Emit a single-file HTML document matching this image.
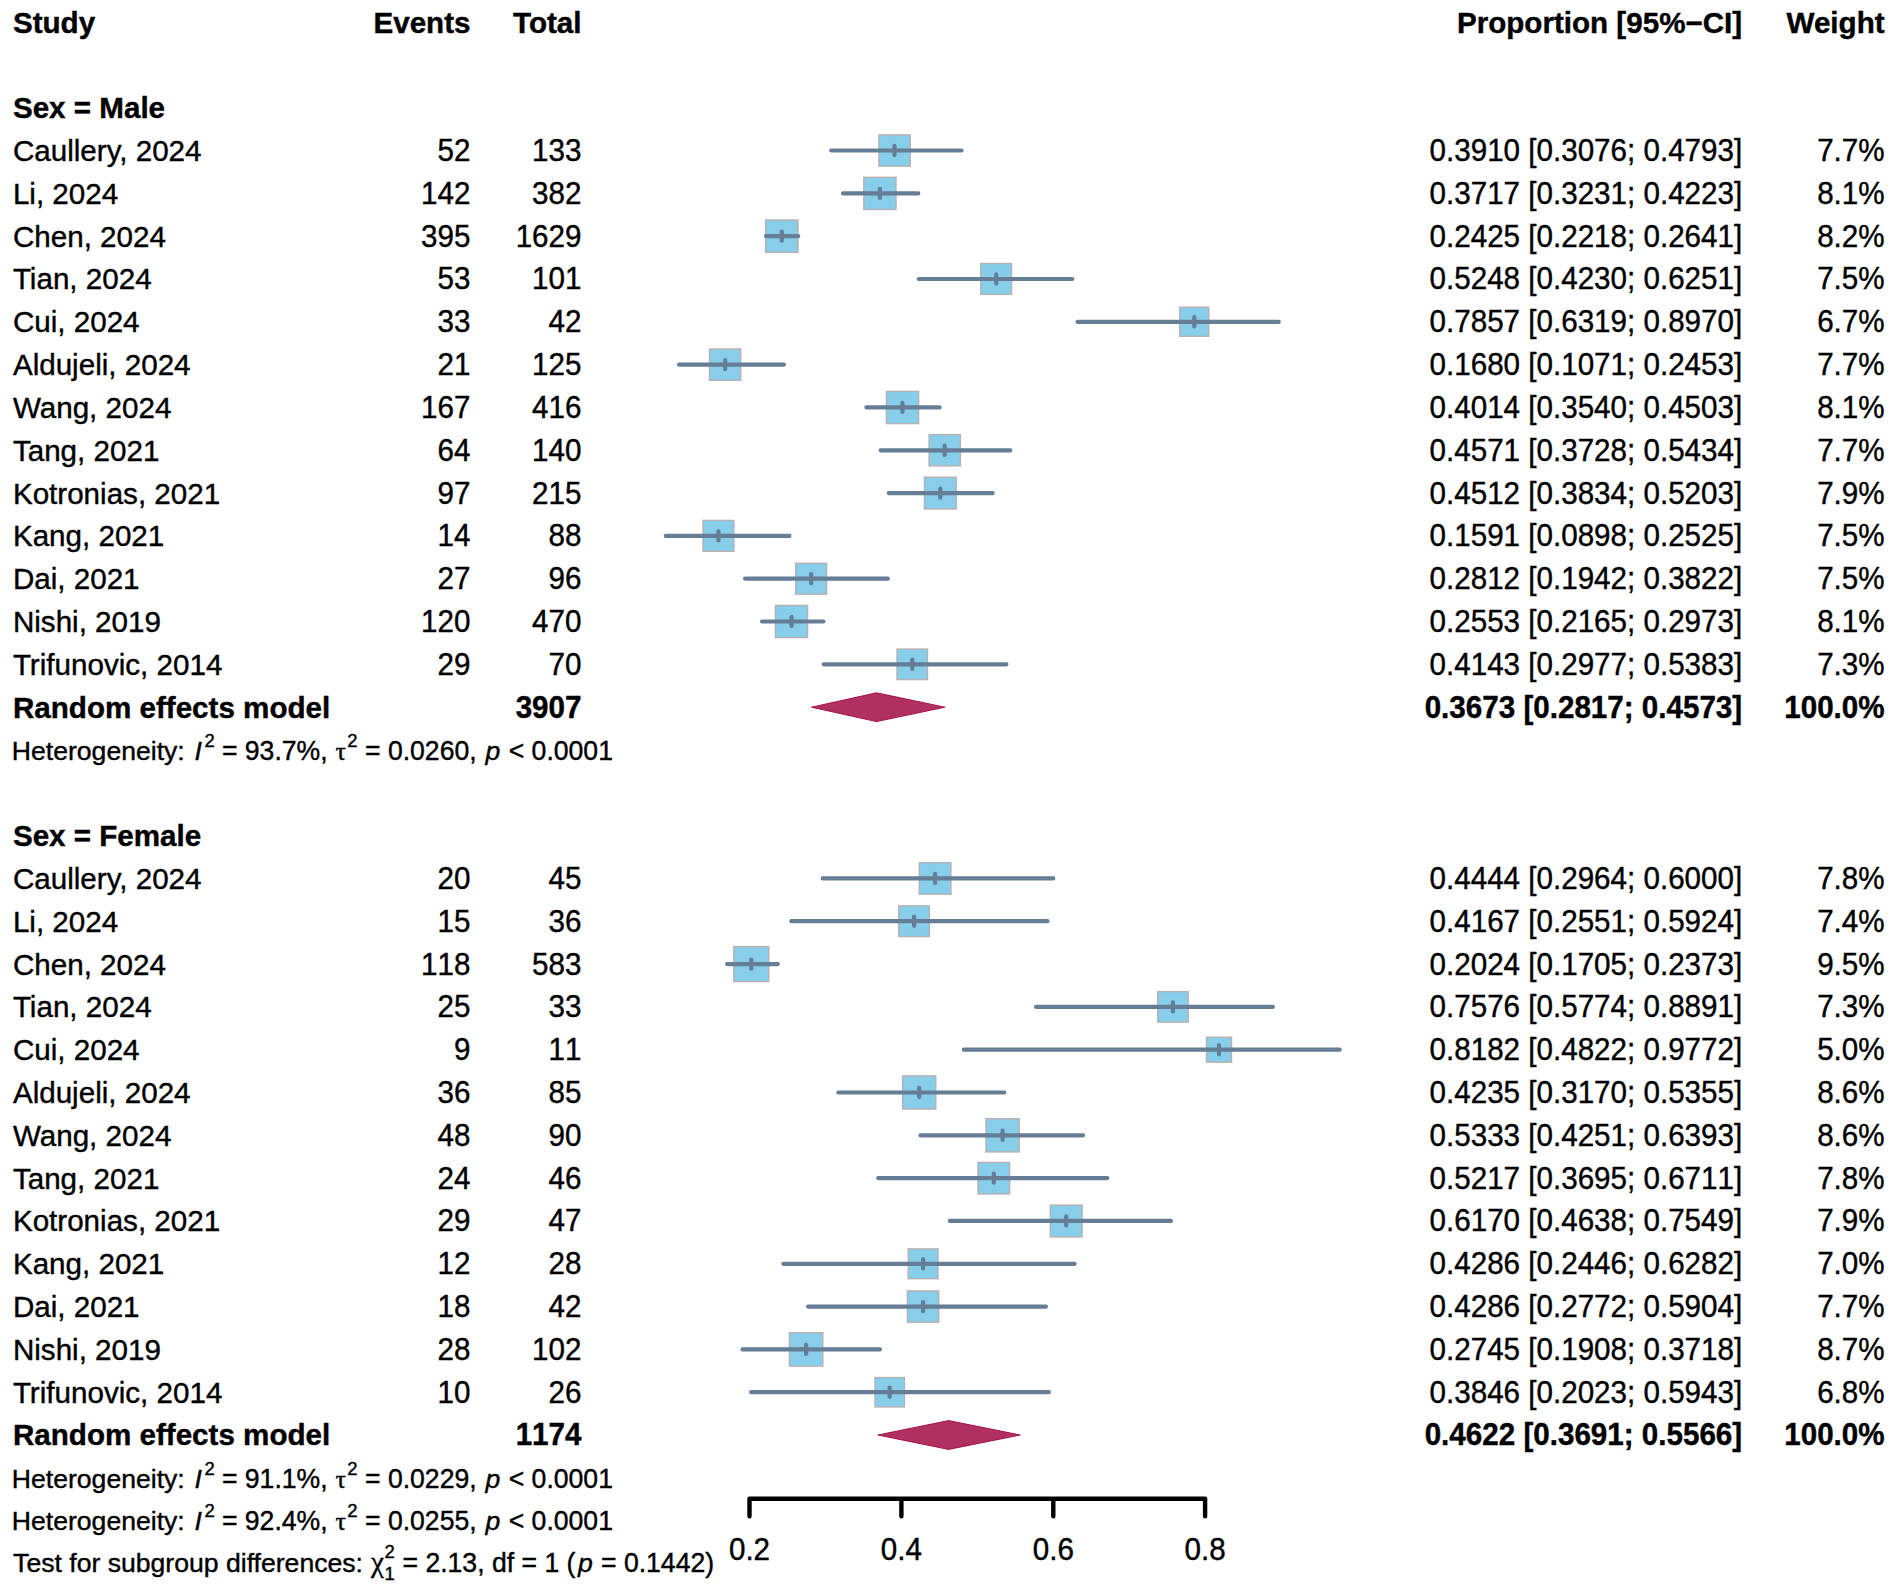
<!DOCTYPE html>
<html lang="en"><head><meta charset="utf-8"><title>Forest plot</title>
<style>
html,body{margin:0;padding:0;background:#fff}
svg{display:block}
.s{font-size:26.6px}
.u{font-size:18.5px}
.i{font-style:italic}
.k{font-kerning:normal}
.y{font-family:"Liberation Serif","DejaVu Serif",serif;font-size:26px}
.x{font-family:"Liberation Serif","DejaVu Serif",serif;font-size:29px}
text{font-family:"Liberation Sans",Arial,Helvetica,sans-serif;font-size:29.6px;fill:#000;font-kerning:none;stroke:#000;stroke-width:0.4px}
</style></head><body>
<svg width="1893" height="1591" viewBox="0 0 1893 1591">
<rect width="1893" height="1591" fill="#fff"/>
<text x="12.9" y="32.5" font-weight="bold" class="k">Study</text>
<text x="470.5" y="32.5" text-anchor="end" font-weight="bold" class="k">Events</text>
<text x="581.5" y="32.5" text-anchor="end" font-weight="bold" class="k">Total</text>
<text x="1742.2" y="32.5" text-anchor="end" font-weight="bold" class="k">Proportion [95%−CI]</text>
<text x="1884.6" y="32.5" text-anchor="end" font-weight="bold" class="k">Weight</text>
<text x="12.9" y="118.1" font-weight="bold" class="k">Sex = Male</text>
<text x="12.9" y="160.9" class="k">Caullery, 2024</text>
<text x="470.5" y="0" transform="translate(0,160.9) scale(1,1.04)" text-anchor="end">52</text>
<text x="581.5" y="0" transform="translate(0,160.9) scale(1,1.04)" text-anchor="end">133</text>
<text x="1742.2" y="0" transform="translate(0,160.9) scale(1,1.04)" text-anchor="end">0.3910 [0.3076; 0.4793]</text>
<text x="1884.6" y="0" transform="translate(0,160.9) scale(1,1.04)" text-anchor="end">7.7%</text>
<rect x="878.9" y="134.9" width="31.3" height="31.3" fill="#87ceeb" stroke="#b9b1b1" stroke-width="1.4"/>
<path d="M831.2 150.5H961.6M894.5 145.9V155.1" stroke="#667d96" stroke-width="4.2" stroke-linecap="round" fill="none"/>
<text x="12.9" y="203.8" class="k">Li, 2024</text>
<text x="470.5" y="0" transform="translate(0,203.8) scale(1,1.04)" text-anchor="end">142</text>
<text x="581.5" y="0" transform="translate(0,203.8) scale(1,1.04)" text-anchor="end">382</text>
<text x="1742.2" y="0" transform="translate(0,203.8) scale(1,1.04)" text-anchor="end">0.3717 [0.3231; 0.4223]</text>
<text x="1884.6" y="0" transform="translate(0,203.8) scale(1,1.04)" text-anchor="end">8.1%</text>
<rect x="863.8" y="177.3" width="32.2" height="32.2" fill="#87ceeb" stroke="#b9b1b1" stroke-width="1.4"/>
<path d="M843.0 193.4H918.3M879.9 188.8V198.0" stroke="#667d96" stroke-width="4.2" stroke-linecap="round" fill="none"/>
<text x="12.9" y="246.6" class="k">Chen, 2024</text>
<text x="470.5" y="0" transform="translate(0,246.6) scale(1,1.04)" text-anchor="end">395</text>
<text x="581.5" y="0" transform="translate(0,246.6) scale(1,1.04)" text-anchor="end">1629</text>
<text x="1742.2" y="0" transform="translate(0,246.6) scale(1,1.04)" text-anchor="end">0.2425 [0.2218; 0.2641]</text>
<text x="1884.6" y="0" transform="translate(0,246.6) scale(1,1.04)" text-anchor="end">8.2%</text>
<rect x="765.6" y="220.0" width="32.4" height="32.4" fill="#87ceeb" stroke="#b9b1b1" stroke-width="1.4"/>
<path d="M766.1 236.2H798.2M781.8 231.6V240.8" stroke="#667d96" stroke-width="4.2" stroke-linecap="round" fill="none"/>
<text x="12.9" y="289.4" class="k">Tian, 2024</text>
<text x="470.5" y="0" transform="translate(0,289.4) scale(1,1.04)" text-anchor="end">53</text>
<text x="581.5" y="0" transform="translate(0,289.4) scale(1,1.04)" text-anchor="end">101</text>
<text x="1742.2" y="0" transform="translate(0,289.4) scale(1,1.04)" text-anchor="end">0.5248 [0.4230; 0.6251]</text>
<text x="1884.6" y="0" transform="translate(0,289.4) scale(1,1.04)" text-anchor="end">7.5%</text>
<rect x="980.7" y="263.5" width="30.9" height="30.9" fill="#87ceeb" stroke="#b9b1b1" stroke-width="1.4"/>
<path d="M918.8 279.0H1072.3M996.2 274.4V283.6" stroke="#667d96" stroke-width="4.2" stroke-linecap="round" fill="none"/>
<text x="12.9" y="332.2" class="k">Cui, 2024</text>
<text x="470.5" y="0" transform="translate(0,332.2) scale(1,1.04)" text-anchor="end">33</text>
<text x="581.5" y="0" transform="translate(0,332.2) scale(1,1.04)" text-anchor="end">42</text>
<text x="1742.2" y="0" transform="translate(0,332.2) scale(1,1.04)" text-anchor="end">0.7857 [0.6319; 0.8970]</text>
<text x="1884.6" y="0" transform="translate(0,332.2) scale(1,1.04)" text-anchor="end">6.7%</text>
<rect x="1179.7" y="307.2" width="29.1" height="29.1" fill="#87ceeb" stroke="#b9b1b1" stroke-width="1.4"/>
<path d="M1077.5 321.8H1278.8M1194.3 317.2V326.4" stroke="#667d96" stroke-width="4.2" stroke-linecap="round" fill="none"/>
<text x="12.9" y="375.0" class="k">Aldujeli, 2024</text>
<text x="470.5" y="0" transform="translate(0,375.0) scale(1,1.04)" text-anchor="end">21</text>
<text x="581.5" y="0" transform="translate(0,375.0) scale(1,1.04)" text-anchor="end">125</text>
<text x="1742.2" y="0" transform="translate(0,375.0) scale(1,1.04)" text-anchor="end">0.1680 [0.1071; 0.2453]</text>
<text x="1884.6" y="0" transform="translate(0,375.0) scale(1,1.04)" text-anchor="end">7.7%</text>
<rect x="709.5" y="349.0" width="31.3" height="31.3" fill="#87ceeb" stroke="#b9b1b1" stroke-width="1.4"/>
<path d="M679.0 364.6H783.9M725.2 360.0V369.2" stroke="#667d96" stroke-width="4.2" stroke-linecap="round" fill="none"/>
<text x="12.9" y="417.8" class="k">Wang, 2024</text>
<text x="470.5" y="0" transform="translate(0,417.8) scale(1,1.04)" text-anchor="end">167</text>
<text x="581.5" y="0" transform="translate(0,417.8) scale(1,1.04)" text-anchor="end">416</text>
<text x="1742.2" y="0" transform="translate(0,417.8) scale(1,1.04)" text-anchor="end">0.4014 [0.3540; 0.4503]</text>
<text x="1884.6" y="0" transform="translate(0,417.8) scale(1,1.04)" text-anchor="end">8.1%</text>
<rect x="886.4" y="391.4" width="32.2" height="32.2" fill="#87ceeb" stroke="#b9b1b1" stroke-width="1.4"/>
<path d="M866.4 407.4H939.6M902.4 402.8V412.0" stroke="#667d96" stroke-width="4.2" stroke-linecap="round" fill="none"/>
<text x="12.9" y="460.7" class="k">Tang, 2021</text>
<text x="470.5" y="0" transform="translate(0,460.7) scale(1,1.04)" text-anchor="end">64</text>
<text x="581.5" y="0" transform="translate(0,460.7) scale(1,1.04)" text-anchor="end">140</text>
<text x="1742.2" y="0" transform="translate(0,460.7) scale(1,1.04)" text-anchor="end">0.4571 [0.3728; 0.5434]</text>
<text x="1884.6" y="0" transform="translate(0,460.7) scale(1,1.04)" text-anchor="end">7.7%</text>
<rect x="929.1" y="434.6" width="31.3" height="31.3" fill="#87ceeb" stroke="#b9b1b1" stroke-width="1.4"/>
<path d="M880.7 450.3H1010.3M944.7 445.7V454.9" stroke="#667d96" stroke-width="4.2" stroke-linecap="round" fill="none"/>
<text x="12.9" y="503.5" class="k">Kotronias, 2021</text>
<text x="470.5" y="0" transform="translate(0,503.5) scale(1,1.04)" text-anchor="end">97</text>
<text x="581.5" y="0" transform="translate(0,503.5) scale(1,1.04)" text-anchor="end">215</text>
<text x="1742.2" y="0" transform="translate(0,503.5) scale(1,1.04)" text-anchor="end">0.4512 [0.3834; 0.5203]</text>
<text x="1884.6" y="0" transform="translate(0,503.5) scale(1,1.04)" text-anchor="end">7.9%</text>
<rect x="924.4" y="477.2" width="31.8" height="31.8" fill="#87ceeb" stroke="#b9b1b1" stroke-width="1.4"/>
<path d="M888.8 493.1H992.7M940.3 488.5V497.7" stroke="#667d96" stroke-width="4.2" stroke-linecap="round" fill="none"/>
<text x="12.9" y="546.3" class="k">Kang, 2021</text>
<text x="470.5" y="0" transform="translate(0,546.3) scale(1,1.04)" text-anchor="end">14</text>
<text x="581.5" y="0" transform="translate(0,546.3) scale(1,1.04)" text-anchor="end">88</text>
<text x="1742.2" y="0" transform="translate(0,546.3) scale(1,1.04)" text-anchor="end">0.1591 [0.0898; 0.2525]</text>
<text x="1884.6" y="0" transform="translate(0,546.3) scale(1,1.04)" text-anchor="end">7.5%</text>
<rect x="703.0" y="520.4" width="30.9" height="30.9" fill="#87ceeb" stroke="#b9b1b1" stroke-width="1.4"/>
<path d="M665.8 535.9H789.4M718.4 531.3V540.5" stroke="#667d96" stroke-width="4.2" stroke-linecap="round" fill="none"/>
<text x="12.9" y="589.1" class="k">Dai, 2021</text>
<text x="470.5" y="0" transform="translate(0,589.1) scale(1,1.04)" text-anchor="end">27</text>
<text x="581.5" y="0" transform="translate(0,589.1) scale(1,1.04)" text-anchor="end">96</text>
<text x="1742.2" y="0" transform="translate(0,589.1) scale(1,1.04)" text-anchor="end">0.2812 [0.1942; 0.3822]</text>
<text x="1884.6" y="0" transform="translate(0,589.1) scale(1,1.04)" text-anchor="end">7.5%</text>
<rect x="795.7" y="563.3" width="30.9" height="30.9" fill="#87ceeb" stroke="#b9b1b1" stroke-width="1.4"/>
<path d="M745.1 578.7H887.9M811.2 574.1V583.3" stroke="#667d96" stroke-width="4.2" stroke-linecap="round" fill="none"/>
<text x="12.9" y="631.9" class="k">Nishi, 2019</text>
<text x="470.5" y="0" transform="translate(0,631.9) scale(1,1.04)" text-anchor="end">120</text>
<text x="581.5" y="0" transform="translate(0,631.9) scale(1,1.04)" text-anchor="end">470</text>
<text x="1742.2" y="0" transform="translate(0,631.9) scale(1,1.04)" text-anchor="end">0.2553 [0.2165; 0.2973]</text>
<text x="1884.6" y="0" transform="translate(0,631.9) scale(1,1.04)" text-anchor="end">8.1%</text>
<rect x="775.4" y="605.4" width="32.2" height="32.2" fill="#87ceeb" stroke="#b9b1b1" stroke-width="1.4"/>
<path d="M762.0 621.5H823.4M791.5 616.9V626.1" stroke="#667d96" stroke-width="4.2" stroke-linecap="round" fill="none"/>
<text x="12.9" y="674.7" class="k">Trifunovic, 2014</text>
<text x="470.5" y="0" transform="translate(0,674.7) scale(1,1.04)" text-anchor="end">29</text>
<text x="581.5" y="0" transform="translate(0,674.7) scale(1,1.04)" text-anchor="end">70</text>
<text x="1742.2" y="0" transform="translate(0,674.7) scale(1,1.04)" text-anchor="end">0.4143 [0.2977; 0.5383]</text>
<text x="1884.6" y="0" transform="translate(0,674.7) scale(1,1.04)" text-anchor="end">7.3%</text>
<rect x="897.0" y="649.1" width="30.5" height="30.5" fill="#87ceeb" stroke="#b9b1b1" stroke-width="1.4"/>
<path d="M823.7 664.3H1006.4M912.2 659.7V668.9" stroke="#667d96" stroke-width="4.2" stroke-linecap="round" fill="none"/>
<text x="12.9" y="717.6" font-weight="bold" class="k">Random effects model</text>
<text x="581.5" y="0" transform="translate(0,717.6) scale(1,1.04)" text-anchor="end" font-weight="bold">3907</text>
<text x="1742.2" y="0" transform="translate(0,717.6) scale(1,1.04)" text-anchor="end" font-weight="bold">0.3673 [0.2817; 0.4573]</text>
<text x="1884.6" y="0" transform="translate(0,717.6) scale(1,1.04)" text-anchor="end" font-weight="bold">100.0%</text>
<polygon points="811.5,707.2 876.5,692.8 944.9,707.2 876.5,721.6" fill="#b03060" stroke="#a8124f" stroke-width="1" stroke-linejoin="round"/>
<text x="11.8" y="759.9" class="s">Heterogeneity:</text>
<text x="194.4" y="759.9" class="s i">I</text>
<text x="204.4" y="746.8" class="u">2</text>
<text x="221.9" y="0" transform="translate(0,759.9) scale(1,1.04)" class="s">= 93.7%,</text>
<text x="335.5" y="759.9" class="y">τ</text>
<text x="347.2" y="746.8" class="u">2</text>
<text x="365.0" y="0" transform="translate(0,759.9) scale(1,1.04)" class="s">= 0.0260,</text>
<text x="485.4" y="759.9" class="s i">p</text>
<text x="508.7" y="0" transform="translate(0,759.9) scale(1,1.04)" class="s">&lt; 0.0001</text>
<text x="12.9" y="846.0" font-weight="bold" class="k">Sex = Female</text>
<text x="12.9" y="888.8" class="k">Caullery, 2024</text>
<text x="470.5" y="0" transform="translate(0,888.8) scale(1,1.04)" text-anchor="end">20</text>
<text x="581.5" y="0" transform="translate(0,888.8) scale(1,1.04)" text-anchor="end">45</text>
<text x="1742.2" y="0" transform="translate(0,888.8) scale(1,1.04)" text-anchor="end">0.4444 [0.2964; 0.6000]</text>
<text x="1884.6" y="0" transform="translate(0,888.8) scale(1,1.04)" text-anchor="end">7.8%</text>
<rect x="919.3" y="862.6" width="31.6" height="31.6" fill="#87ceeb" stroke="#b9b1b1" stroke-width="1.4"/>
<path d="M822.7 878.4H1053.3M935.1 873.8V883.0" stroke="#667d96" stroke-width="4.2" stroke-linecap="round" fill="none"/>
<text x="12.9" y="931.6" class="k">Li, 2024</text>
<text x="470.5" y="0" transform="translate(0,931.6) scale(1,1.04)" text-anchor="end">15</text>
<text x="581.5" y="0" transform="translate(0,931.6) scale(1,1.04)" text-anchor="end">36</text>
<text x="1742.2" y="0" transform="translate(0,931.6) scale(1,1.04)" text-anchor="end">0.4167 [0.2551; 0.5924]</text>
<text x="1884.6" y="0" transform="translate(0,931.6) scale(1,1.04)" text-anchor="end">7.4%</text>
<rect x="898.7" y="905.9" width="30.7" height="30.7" fill="#87ceeb" stroke="#b9b1b1" stroke-width="1.4"/>
<path d="M791.3 921.2H1047.5M914.1 916.6V925.8" stroke="#667d96" stroke-width="4.2" stroke-linecap="round" fill="none"/>
<text x="12.9" y="974.5" class="k">Chen, 2024</text>
<text x="470.5" y="0" transform="translate(0,974.5) scale(1,1.04)" text-anchor="end">118</text>
<text x="581.5" y="0" transform="translate(0,974.5) scale(1,1.04)" text-anchor="end">583</text>
<text x="1742.2" y="0" transform="translate(0,974.5) scale(1,1.04)" text-anchor="end">0.2024 [0.1705; 0.2373]</text>
<text x="1884.6" y="0" transform="translate(0,974.5) scale(1,1.04)" text-anchor="end">9.5%</text>
<rect x="733.8" y="946.6" width="35.0" height="35.0" fill="#87ceeb" stroke="#b9b1b1" stroke-width="1.4"/>
<path d="M727.1 964.1H777.8M751.3 959.5V968.7" stroke="#667d96" stroke-width="4.2" stroke-linecap="round" fill="none"/>
<text x="12.9" y="1017.3" class="k">Tian, 2024</text>
<text x="470.5" y="0" transform="translate(0,1017.3) scale(1,1.04)" text-anchor="end">25</text>
<text x="581.5" y="0" transform="translate(0,1017.3) scale(1,1.04)" text-anchor="end">33</text>
<text x="1742.2" y="0" transform="translate(0,1017.3) scale(1,1.04)" text-anchor="end">0.7576 [0.5774; 0.8891]</text>
<text x="1884.6" y="0" transform="translate(0,1017.3) scale(1,1.04)" text-anchor="end">7.3%</text>
<rect x="1157.7" y="991.6" width="30.5" height="30.5" fill="#87ceeb" stroke="#b9b1b1" stroke-width="1.4"/>
<path d="M1036.1 1006.9H1272.8M1172.9 1002.3V1011.5" stroke="#667d96" stroke-width="4.2" stroke-linecap="round" fill="none"/>
<text x="12.9" y="1060.1" class="k">Cui, 2024</text>
<text x="470.5" y="0" transform="translate(0,1060.1) scale(1,1.04)" text-anchor="end">9</text>
<text x="581.5" y="0" transform="translate(0,1060.1) scale(1,1.04)" text-anchor="end">11</text>
<text x="1742.2" y="0" transform="translate(0,1060.1) scale(1,1.04)" text-anchor="end">0.8182 [0.4822; 0.9772]</text>
<text x="1884.6" y="0" transform="translate(0,1060.1) scale(1,1.04)" text-anchor="end">5.0%</text>
<rect x="1206.5" y="1037.2" width="25.0" height="25.0" fill="#87ceeb" stroke="#b9b1b1" stroke-width="1.4"/>
<path d="M963.8 1049.7H1339.7M1219.0 1045.1V1054.3" stroke="#667d96" stroke-width="4.2" stroke-linecap="round" fill="none"/>
<text x="12.9" y="1102.9" class="k">Aldujeli, 2024</text>
<text x="470.5" y="0" transform="translate(0,1102.9) scale(1,1.04)" text-anchor="end">36</text>
<text x="581.5" y="0" transform="translate(0,1102.9) scale(1,1.04)" text-anchor="end">85</text>
<text x="1742.2" y="0" transform="translate(0,1102.9) scale(1,1.04)" text-anchor="end">0.4235 [0.3170; 0.5355]</text>
<text x="1884.6" y="0" transform="translate(0,1102.9) scale(1,1.04)" text-anchor="end">8.6%</text>
<rect x="902.6" y="1075.9" width="33.2" height="33.2" fill="#87ceeb" stroke="#b9b1b1" stroke-width="1.4"/>
<path d="M838.3 1092.5H1004.3M919.2 1087.9V1097.1" stroke="#667d96" stroke-width="4.2" stroke-linecap="round" fill="none"/>
<text x="12.9" y="1145.7" class="k">Wang, 2024</text>
<text x="470.5" y="0" transform="translate(0,1145.7) scale(1,1.04)" text-anchor="end">48</text>
<text x="581.5" y="0" transform="translate(0,1145.7) scale(1,1.04)" text-anchor="end">90</text>
<text x="1742.2" y="0" transform="translate(0,1145.7) scale(1,1.04)" text-anchor="end">0.5333 [0.4251; 0.6393]</text>
<text x="1884.6" y="0" transform="translate(0,1145.7) scale(1,1.04)" text-anchor="end">8.6%</text>
<rect x="986.0" y="1118.7" width="33.2" height="33.2" fill="#87ceeb" stroke="#b9b1b1" stroke-width="1.4"/>
<path d="M920.4 1135.3H1083.1M1002.6 1130.7V1139.9" stroke="#667d96" stroke-width="4.2" stroke-linecap="round" fill="none"/>
<text x="12.9" y="1188.5" class="k">Tang, 2021</text>
<text x="470.5" y="0" transform="translate(0,1188.5) scale(1,1.04)" text-anchor="end">24</text>
<text x="581.5" y="0" transform="translate(0,1188.5) scale(1,1.04)" text-anchor="end">46</text>
<text x="1742.2" y="0" transform="translate(0,1188.5) scale(1,1.04)" text-anchor="end">0.5217 [0.3695; 0.6711]</text>
<text x="1884.6" y="0" transform="translate(0,1188.5) scale(1,1.04)" text-anchor="end">7.8%</text>
<rect x="978.0" y="1162.4" width="31.6" height="31.6" fill="#87ceeb" stroke="#b9b1b1" stroke-width="1.4"/>
<path d="M878.2 1178.1H1107.3M993.8 1173.5V1182.7" stroke="#667d96" stroke-width="4.2" stroke-linecap="round" fill="none"/>
<text x="12.9" y="1231.3" class="k">Kotronias, 2021</text>
<text x="470.5" y="0" transform="translate(0,1231.3) scale(1,1.04)" text-anchor="end">29</text>
<text x="581.5" y="0" transform="translate(0,1231.3) scale(1,1.04)" text-anchor="end">47</text>
<text x="1742.2" y="0" transform="translate(0,1231.3) scale(1,1.04)" text-anchor="end">0.6170 [0.4638; 0.7549]</text>
<text x="1884.6" y="0" transform="translate(0,1231.3) scale(1,1.04)" text-anchor="end">7.9%</text>
<rect x="1050.3" y="1205.1" width="31.8" height="31.8" fill="#87ceeb" stroke="#b9b1b1" stroke-width="1.4"/>
<path d="M949.8 1220.9H1170.9M1066.2 1216.3V1225.5" stroke="#667d96" stroke-width="4.2" stroke-linecap="round" fill="none"/>
<text x="12.9" y="1274.2" class="k">Kang, 2021</text>
<text x="470.5" y="0" transform="translate(0,1274.2) scale(1,1.04)" text-anchor="end">12</text>
<text x="581.5" y="0" transform="translate(0,1274.2) scale(1,1.04)" text-anchor="end">28</text>
<text x="1742.2" y="0" transform="translate(0,1274.2) scale(1,1.04)" text-anchor="end">0.4286 [0.2446; 0.6282]</text>
<text x="1884.6" y="0" transform="translate(0,1274.2) scale(1,1.04)" text-anchor="end">7.0%</text>
<rect x="908.2" y="1248.9" width="29.8" height="29.8" fill="#87ceeb" stroke="#b9b1b1" stroke-width="1.4"/>
<path d="M783.4 1263.8H1074.7M923.1 1259.2V1268.4" stroke="#667d96" stroke-width="4.2" stroke-linecap="round" fill="none"/>
<text x="12.9" y="1317.0" class="k">Dai, 2021</text>
<text x="470.5" y="0" transform="translate(0,1317.0) scale(1,1.04)" text-anchor="end">18</text>
<text x="581.5" y="0" transform="translate(0,1317.0) scale(1,1.04)" text-anchor="end">42</text>
<text x="1742.2" y="0" transform="translate(0,1317.0) scale(1,1.04)" text-anchor="end">0.4286 [0.2772; 0.5904]</text>
<text x="1884.6" y="0" transform="translate(0,1317.0) scale(1,1.04)" text-anchor="end">7.7%</text>
<rect x="907.4" y="1290.9" width="31.3" height="31.3" fill="#87ceeb" stroke="#b9b1b1" stroke-width="1.4"/>
<path d="M808.1 1306.6H1046.0M923.1 1302.0V1311.2" stroke="#667d96" stroke-width="4.2" stroke-linecap="round" fill="none"/>
<text x="12.9" y="1359.8" class="k">Nishi, 2019</text>
<text x="470.5" y="0" transform="translate(0,1359.8) scale(1,1.04)" text-anchor="end">28</text>
<text x="581.5" y="0" transform="translate(0,1359.8) scale(1,1.04)" text-anchor="end">102</text>
<text x="1742.2" y="0" transform="translate(0,1359.8) scale(1,1.04)" text-anchor="end">0.2745 [0.1908; 0.3718]</text>
<text x="1884.6" y="0" transform="translate(0,1359.8) scale(1,1.04)" text-anchor="end">8.7%</text>
<rect x="789.4" y="1332.7" width="33.4" height="33.4" fill="#87ceeb" stroke="#b9b1b1" stroke-width="1.4"/>
<path d="M742.5 1349.4H880.0M806.1 1344.8V1354.0" stroke="#667d96" stroke-width="4.2" stroke-linecap="round" fill="none"/>
<text x="12.9" y="1402.6" class="k">Trifunovic, 2014</text>
<text x="470.5" y="0" transform="translate(0,1402.6) scale(1,1.04)" text-anchor="end">10</text>
<text x="581.5" y="0" transform="translate(0,1402.6) scale(1,1.04)" text-anchor="end">26</text>
<text x="1742.2" y="0" transform="translate(0,1402.6) scale(1,1.04)" text-anchor="end">0.3846 [0.2023; 0.5943]</text>
<text x="1884.6" y="0" transform="translate(0,1402.6) scale(1,1.04)" text-anchor="end">6.8%</text>
<rect x="875.0" y="1377.5" width="29.4" height="29.4" fill="#87ceeb" stroke="#b9b1b1" stroke-width="1.4"/>
<path d="M751.2 1392.2H1048.9M889.7 1387.6V1396.8" stroke="#667d96" stroke-width="4.2" stroke-linecap="round" fill="none"/>
<text x="12.9" y="1445.4" font-weight="bold" class="k">Random effects model</text>
<text x="581.5" y="0" transform="translate(0,1445.4) scale(1,1.04)" text-anchor="end" font-weight="bold">1174</text>
<text x="1742.2" y="0" transform="translate(0,1445.4) scale(1,1.04)" text-anchor="end" font-weight="bold">0.4622 [0.3691; 0.5566]</text>
<text x="1884.6" y="0" transform="translate(0,1445.4) scale(1,1.04)" text-anchor="end" font-weight="bold">100.0%</text>
<polygon points="877.9,1435.0 948.6,1420.6 1020.3,1435.0 948.6,1449.4" fill="#b03060" stroke="#a8124f" stroke-width="1" stroke-linejoin="round"/>
<text x="11.8" y="1488.2" class="s">Heterogeneity:</text>
<text x="194.4" y="1488.2" class="s i">I</text>
<text x="204.4" y="1475.1" class="u">2</text>
<text x="221.9" y="0" transform="translate(0,1488.2) scale(1,1.04)" class="s">= 91.1%,</text>
<text x="335.5" y="1488.2" class="y">τ</text>
<text x="347.2" y="1475.1" class="u">2</text>
<text x="365.0" y="0" transform="translate(0,1488.2) scale(1,1.04)" class="s">= 0.0229,</text>
<text x="485.4" y="1488.2" class="s i">p</text>
<text x="508.7" y="0" transform="translate(0,1488.2) scale(1,1.04)" class="s">&lt; 0.0001</text>
<text x="11.8" y="1530.2" class="s">Heterogeneity:</text>
<text x="194.4" y="1530.2" class="s i">I</text>
<text x="204.4" y="1517.1" class="u">2</text>
<text x="221.9" y="0" transform="translate(0,1530.2) scale(1,1.04)" class="s">= 92.4%,</text>
<text x="335.5" y="1530.2" class="y">τ</text>
<text x="347.2" y="1517.1" class="u">2</text>
<text x="365.0" y="0" transform="translate(0,1530.2) scale(1,1.04)" class="s">= 0.0255,</text>
<text x="485.4" y="1530.2" class="s i">p</text>
<text x="508.7" y="0" transform="translate(0,1530.2) scale(1,1.04)" class="s">&lt; 0.0001</text>
<text x="13.1" y="1571.7" class="s k">Test for subgroup differences:</text>
<text x="370.9" y="1571.7" class="x">χ</text>
<text x="384.5" y="1558.0" class="u">2</text>
<text x="384.6" y="1580.1" class="u">1</text>
<text x="402.5" y="0" transform="translate(0,1571.7) scale(1,1.04)" class="s">= 2.13, df = 1 (</text>
<text x="578.0" y="1571.7" class="s i">p</text>
<text x="601.0" y="0" transform="translate(0,1571.7) scale(1,1.04)" class="s">= 0.1442)</text>
<path d="M749.5 1516.3V1498.8H1205.1V1516.3M901.4 1498.8v17.5M1053.3 1498.8v17.5" stroke="#000" stroke-width="4.4" stroke-linecap="round" stroke-linejoin="round" fill="none"/>
<text x="749.5" y="0" transform="translate(0,1560.2) scale(1,1.04)" text-anchor="middle">0.2</text>
<text x="901.4" y="0" transform="translate(0,1560.2) scale(1,1.04)" text-anchor="middle">0.4</text>
<text x="1053.3" y="0" transform="translate(0,1560.2) scale(1,1.04)" text-anchor="middle">0.6</text>
<text x="1205.1" y="0" transform="translate(0,1560.2) scale(1,1.04)" text-anchor="middle">0.8</text>
</svg>
</body></html>
